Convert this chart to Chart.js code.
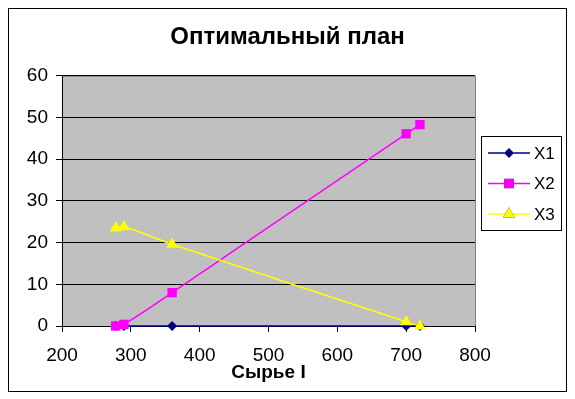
<!DOCTYPE html>
<html>
<head>
<meta charset="utf-8">
<script src="https://cdn.jsdelivr.net/npm/chart.js@4/dist/chart.umd.min.js"></script>
<style>
  html, body { margin: 0; padding: 0; background: #fff; }
  #wrap { width: 575px; height: 399px; }
</style>
</head>
<body>
<div id="wrap"><canvas id="c" width="575" height="399"></canvas></div>
<script>
const titleText = 'Оптимальный план';
const xAxisTitle = 'Сырье I';
const seriesNames = ['X1', 'X2', 'X3'];
const xValues = [278, 290, 360, 700, 720];
const x1Values = [0, 0, 0, 0, 0];
const x2Values = [0, 0.4, 8, 46.1, 48.3];
const x3Values = [23.5, 23.8, 19.6, 1, 0];
const xTicks = [200, 300, 400, 500, 600, 700, 800];
const yTicks = [0, 10, 20, 30, 40, 50, 60];

const FONT = '"Liberation Sans", Arial, sans-serif';
const colors = ['#000080', '#FF00FF', '#FFFF00'];
const styles = ['rectRot', 'rect', 'triangle'];
const radii = [5, 6.6, 6.8];
const valueSets = [x1Values, x2Values, x3Values];

const datasets = seriesNames.map((name, i) => ({
  label: name,
  data: xValues.map((x, k) => ({ x: x, y: valueSets[i][k] })),
  showLine: true,
  borderColor: colors[i],
  backgroundColor: colors[i],
  borderWidth: 1.5,
  pointStyle: styles[i],
  pointRadius: radii[i],
  pointHoverRadius: radii[i],
  pointBorderWidth: 0,
  pointBackgroundColor: colors[i],
  tension: 0.33,
  clip: false,
  order: 3 - i
}));

const frame = {
  id: 'frame',
  beforeDraw(chart) {
    const ctx = chart.ctx;
    ctx.save();
    ctx.fillStyle = '#fff';
    ctx.fillRect(0, 0, chart.width, chart.height);
    ctx.strokeStyle = '#000';
    ctx.lineWidth = 1;
    ctx.strokeRect(8.5, 8.5, 558, 383);
    const a = chart.chartArea;
    ctx.fillStyle = '#C0C0C0';
    ctx.fillRect(a.left, a.top, a.right - a.left, a.bottom - a.top);
    ctx.strokeStyle = '#808080';
    ctx.strokeRect(a.left + 0.5, a.top + 0.5, a.right - a.left, a.bottom - a.top);
    ctx.restore();
  },
  afterDraw(chart) {
    const ctx = chart.ctx;
    ctx.save();
    const bx = 481.5, by = 136.5, bw = 80, bh = 94;
    ctx.fillStyle = '#fff';
    ctx.fillRect(bx, by, bw, bh);
    ctx.strokeStyle = '#000';
    ctx.lineWidth = 1;
    ctx.strokeRect(bx, by, bw, bh);
    chart.data.datasets.forEach((ds, i) => {
      const y = 153 + i * 30.5;
      ctx.strokeStyle = ds.borderColor;
      ctx.lineWidth = 1.5;
      ctx.beginPath();
      ctx.moveTo(488, y);
      ctx.lineTo(530, y);
      ctx.stroke();
      Chart.helpers.drawPoint(ctx, {
        pointStyle: ds.pointStyle,
        radius: ds.pointRadius,
        borderWidth: 0,
        rotation: 0
      }, 509, y);
      ctx.fillStyle = ds.borderColor;
      ctx.fill();
      ctx.fillStyle = '#000';
      ctx.font = '17px ' + FONT;
      ctx.textBaseline = 'middle';
      ctx.textAlign = 'left';
      ctx.fillText(ds.label, 534, y + 1);
    });
    ctx.restore();
  }
};

new Chart(document.getElementById('c'), {
  type: 'scatter',
  data: { datasets },
  plugins: [frame],
  options: {
    responsive: false,
    animation: false,
    devicePixelRatio: 1,
    layout: { padding: { left: 0, right: 0, top: 0, bottom: 0 } },
    plugins: {
      legend: { display: false },
      tooltip: { enabled: false },
      title: {
        display: true,
        text: titleText,
        color: '#000',
        font: { family: FONT, size: 24, weight: 'bold', lineHeight: 1.2 },
        padding: { top: 23, bottom: 24 }
      }
    },
    scales: {
      x: {
        type: 'linear',
        min: 200, max: 800,
        afterBuildTicks(s) { s.ticks = xTicks.map(v => ({ value: v })); },
        afterFit(s) { s.height = 73; },
        border: { color: '#000', width: 1 },
        grid: { drawOnChartArea: false, drawTicks: true, tickLength: 6, color: '#000' },
        ticks: { color: '#000', font: { family: FONT, size: 19 }, padding: 12, maxRotation: 0 },
        title: {
          display: true, text: xAxisTitle, color: '#000',
          font: { family: FONT, size: 19, weight: 'bold' },
          padding: { top: 0, bottom: 15 }
        }
      },
      y: {
        type: 'linear',
        position: 'left',
        min: 0, max: 60,
        afterBuildTicks(s) { s.ticks = yTicks.map(v => ({ value: v })); },
        afterFit(s) { s.width = 62; },
        border: { color: '#000', width: 1 },
        grid: { color: '#000', tickLength: 6, lineWidth: 1 },
        ticks: { color: '#000', font: { family: FONT, size: 19 }, padding: 8 }
      },
      yR: {
        type: 'linear',
        position: 'right',
        min: 0, max: 60,
        afterFit(s) { s.width = 100; },
        border: { display: false },
        grid: { display: false, drawTicks: false },
        ticks: { display: false }
      }
    }
  }
});
</script>
</body>
</html>
